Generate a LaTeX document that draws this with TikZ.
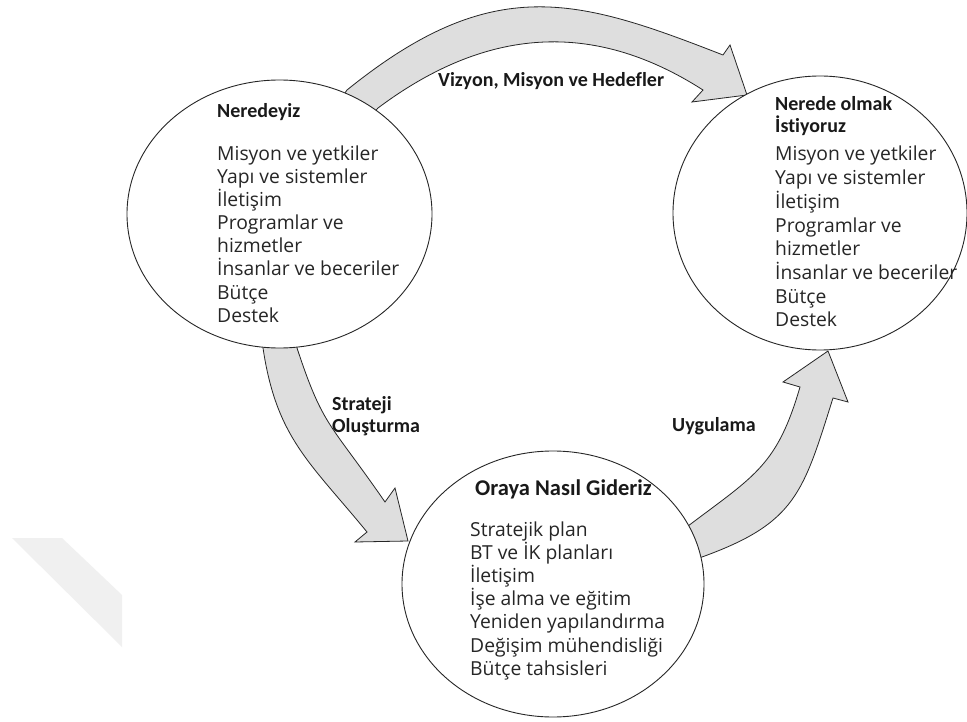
\documentclass[tikz,border=0pt]{standalone}
\usepackage{fontspec}
\setmainfont{Open Sans}
\newfontfamily\titlefont{Carlito}[Ligatures=NoCommon]
\usetikzlibrary{shapes.geometric}

\tikzset{
  stage/.style={ellipse, draw=black!85, line width=0.9pt, fill=white, inner sep=0pt, outer sep=0pt},
  band/.style={draw=black!85, line width=0.8pt, fill=black!13, line join=miter},
  item/.style={anchor=base west, inner sep=0pt, text=black!85,
    font=\fontsize{19.3}{23}\selectfont},
  heading/.style={anchor=base west, inner sep=0pt, text=black!90,
    font=\titlefont\bfseries\fontsize{20}{22}\selectfont},
}

\begin{document}
\begin{tikzpicture}[x=1pt, y=-1pt]
  \useasboundingbox[fill=white] (0,0) rectangle (967,722);

  % faint diagonal strip in the lower left corner
  \fill[black!6] (12,538) -- (62,538) -- (122,595) -- (122,647) -- cycle;

  % curved block arrows (drawn first, the stages cover their tails)
  \draw[band] (340,100) -- (347,90)
      .. controls (493,-28) and (577,-2) .. (723,55)
      -- (730,45) -- (747,95) -- (692,102) -- (703,90)
      .. controls (600,24) and (493,22) .. (378,108)
      -- (370,117) -- cycle;
  \draw[band] (263,335) -- (263,348)
      .. controls (276.5,438) and (309.6,462) .. (367,532)
      -- (355,542) -- (408,541) -- (395,488) -- (385,502)
      .. controls (329.8,422) and (323.4,428) .. (297,348)
      -- (297,335) -- cycle;
  \draw[band] (676,535) -- (692,523)
      .. controls (756,475) and (777.6,463.8) .. (800,387)
      -- (783,382) -- (828,351) -- (848,402) -- (833,398)
      .. controls (803,493) and (796,523) .. (702,557)
      -- (686,563) -- cycle;

  % the three stages
  \node[stage, minimum width=305pt, minimum height=268pt] (now)   at (279.5,214) {};
  \node[stage, minimum width=294pt, minimum height=274pt] (goal)  at (820,213) {};
  \node[stage, minimum width=302pt, minimum height=266pt] (howto) at (553,584) {};

  % stage headings
  \node[heading] (now-title) at (217,118) {Neredeyiz};
  \node[heading] (goal-title1) at (775,111) {Nerede olmak};
  \node[heading] (goal-title2) at (775,133) {İstiyoruz};
  \node[heading, font=\titlefont\bfseries\fontsize{22.5}{24}\selectfont] (howto-title) at (475,495) {Oraya Nasıl Gideriz};

  % stage contents
  \foreach \t [count=\i] in {Misyon ve yetkiler, Yapı ve sistemler, İletişim,
      Programlar ve, hizmetler, İnsanlar ve beceriler, Bütçe, Destek}
    \node[item] (now-\i) at (217,{161+23*(\i-1)}) {\t};
  \foreach \t [count=\i] in {Misyon ve yetkiler, Yapı ve sistemler, İletişim,
      Programlar ve, hizmetler, İnsanlar ve beceriler, Bütçe, Destek}
    \node[item] (goal-\i) at (775,{161+23.7*(\i-1)}) {\t};
  \foreach \t [count=\i] in {Stratejik plan, BT ve İK planları, İletişim,
      İşe alma ve eğitim, Yeniden yapılandırma, Değişim mühendisliği, Bütçe tahsisleri}
    \node[item] (howto-\i) at (470,{536+23.2*(\i-1)}) {\t};

  % arrow labels
  \node[heading] (vision) at (438,87) {Vizyon, Misyon ve Hedefler};
  \node[heading] (strategy1) at (332,410) {Strateji};
  \node[heading] (strategy2) at (332,432) {Oluşturma};
  \node[heading] (apply) at (672,431) {Uygulama};
\end{tikzpicture}
\end{document}
